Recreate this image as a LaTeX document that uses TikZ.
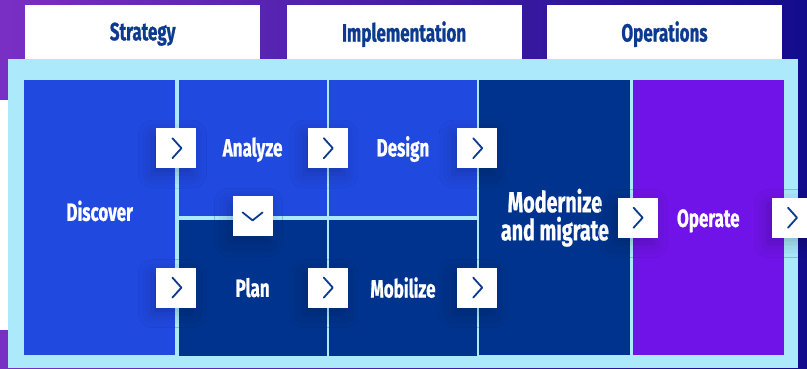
\documentclass[tikz,border=0pt]{standalone}
\usepackage{fontspec}
\newfontfamily\condfont[FakeStretch=0.68,FakeBold=0.8]{Fira Sans}
\usetikzlibrary{positioning,shadows.blur}
\definecolor{panelblue}{HTML}{ABE9FB}
\definecolor{cellblue}{HTML}{2049E0}
\definecolor{celldark}{HTML}{00338D}
\definecolor{cellpurple}{HTML}{7013E8}
\definecolor{inkblue}{HTML}{0B3A8F}
\definecolor{bgpurple}{HTML}{7A2FC4}
\definecolor{bgnavy}{HTML}{120C8C}
\tikzset{
x=1pt, y=-1pt, % one unit is one pixel, y runs downwards
cell/.style={anchor=north west, inner sep=0pt, text=white, align=center,
  font=\condfont\bfseries\fontsize{25}{28}\selectfont}, % the coloured blocks
header/.style={fill=white, anchor=north west, minimum width=235pt, minimum height=58pt,
  text=inkblue, font=\condfont\bfseries\fontsize{25}{28}\selectfont}, % the white tabs on top
stepbox/.style={fill=white, minimum size=40pt, inner sep=0pt,
  blur shadow={shadow xshift=-4pt, shadow yshift=-6pt, shadow blur radius=14pt, shadow opacity=22}}, % white arrow squares
chev/.style={draw=inkblue, line width=1.8pt, line cap=round, line join=round}, % the chevrons
}
\begin{document}
\begin{tikzpicture}
\useasboundingbox (0,0) rectangle (807,368);
\clip (0,0) rectangle (807,368);
% background
\shade[left color=bgpurple, right color=bgnavy] (0,0) rectangle (807,368);
\fill[white] (0,100) rectangle (8,330);
% tabs
\node[header] (strategy) at (25,5) {Strategy};
\node[header, right=26pt of strategy] (implementation) {Implementation};
\node[header, right=25pt of implementation] (operations) {Operations};
\fill[panelblue] (8,59) rectangle (798,368);
% blocks
\node[cell, fill=cellblue, minimum width=151pt, minimum height=275pt] (discover) at (24,80) {\raisebox{14pt}{Discover}};
\node[cell, fill=cellblue, minimum width=148pt, minimum height=136pt, text height=22pt,
  below right=0pt and 3pt of discover.north east] (analyze) {Analyze};
\node[cell, fill=celldark, minimum width=148pt, minimum height=136pt, below=3pt of analyze] (plan) {Plan};
\node[cell, fill=cellblue, minimum width=148pt, minimum height=136pt, text height=22pt, right=2pt of analyze] (design) {Design};
\node[cell, fill=celldark, minimum width=148pt, minimum height=136pt, right=2pt of plan] (mobilize) {Mobilize};
\node[cell, fill=celldark, minimum width=151pt, minimum height=275pt, below right=0pt and 2pt of design.north east,
  font=\condfont\bfseries\fontsize{29}{28}\selectfont] (modernize) {Modernize\\and migrate};
\node[cell, fill=cellpurple, minimum width=151pt, minimum height=275pt, text height=24pt, right=2pt of modernize] (operate) {Operate};
% arrow squares
\node[stepbox] (s1) at ([xshift=-2pt]analyze.west) {};
\node[stepbox] (s2) at ([xshift=-1pt]design.west) {};
\node[stepbox] (s3) at (design.east) {};
\node[stepbox] (s4) at ([xshift=-2pt]plan.west) {};
\node[stepbox] (s5) at ([xshift=-1pt]mobilize.west) {};
\node[stepbox] (s6) at (mobilize.east) {};
\node[stepbox] (s7) at ([xshift=5pt]operate.west) {};
\node[stepbox] (s8) at ([xshift=8pt]operate.east) {};
\node[stepbox] (down) at (analyze.south) {};
\foreach \b in {s1,s2,s3,s4,s5,s6,s7,s8}
  \draw[chev] ([shift={(-4pt,10pt)}]\b.center) -- ++(9pt,-10pt) -- ++(-9pt,-10pt);
\draw[chev] ([shift={(-10pt,4pt)}]down.center) -- ++(10pt,-8pt) -- ++(10pt,8pt);
\end{tikzpicture}
\end{document}
